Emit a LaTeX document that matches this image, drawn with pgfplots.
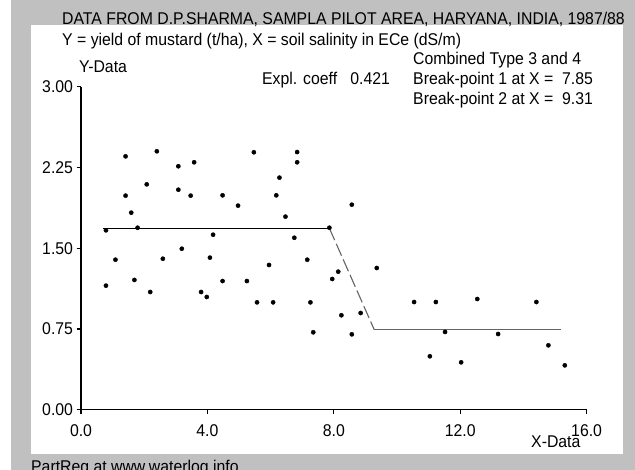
\documentclass[border=0pt]{standalone}
\usepackage{pgfplots}
\pgfplotsset{compat=1.18}
\usepackage{fontspec}
\setmainfont{Liberation Sans}[FakeStretch=0.93]
\definecolor{panelgray}{RGB}{192,192,192}
\definecolor{fitgray}{RGB}{100,100,100}

% yield of mustard (t/ha) against soil salinity ECe (dS/m)
\pgfplotstableread{
x y
1.41 2.353
2.40 2.400
3.08 2.261
3.58 2.298
2.08 2.093
1.41 1.988
3.08 2.043
3.47 1.988
1.59 1.830
0.79 1.666
1.79 1.690
4.18 1.625
3.19 1.495
1.09 1.393
2.59 1.402
4.08 1.412
0.79 1.152
1.69 1.205
2.19 1.093
3.80 1.093
3.98 1.047
5.47 2.391
6.84 2.393
6.84 2.298
6.28 2.155
4.48 1.991
6.18 1.991
4.97 1.895
6.47 1.793
7.86 1.690
6.75 1.597
7.16 1.393
5.95 1.344
8.14 1.282
7.95 1.214
4.48 1.195
5.25 1.195
5.57 0.997
6.08 0.997
7.26 0.997
7.35 0.719
8.57 1.904
9.36 1.316
8.24 0.877
8.85 0.898
8.57 0.700
10.54 1.000
11.23 1.000
11.52 0.722
11.04 0.496
12.54 1.028
14.41 1.000
13.20 0.703
14.79 0.598
12.03 0.440
15.31 0.412
}\mustard

\begin{document}
\begin{tikzpicture}[x=1bp,y=1bp,font=\fontsize{17bp}{20bp}\selectfont]
\useasboundingbox (0,0) rectangle (635,470);
\clip (0,0) rectangle (635,470);
\fill[white] (0,0) rectangle (635,470);
\fill[panelgray] (11,0) rectangle (635,470);
\fill[white] (31,16) rectangle (623,445);

\begin{axis}[
  at={(81bp,60.3bp)}, anchor=south west,
  scale only axis, width=505.6bp, height=323bp,
  xmin=0, xmax=16, ymin=0, ymax=3,
  axis x line=bottom, axis y line=left,
  axis line style={-, line width=1.3bp, black},
  xtick={0,4,8,12,16}, ytick={0,0.75,1.5,2.25,3},
  tick align=outside, major tick length=4.5bp,
  tick style={line width=1.2bp, black},
  tick label style={font=\fontsize{17bp}{20bp}\selectfont},
  x tick label style={yshift=-7bp, /pgf/number format/.cd, assume math mode=true, fixed, fixed zerofill, precision=1, /tikz/.cd},
  y tick label style={/pgf/number format/.cd, assume math mode=true, fixed, fixed zerofill, precision=2, /tikz/.cd},
  clip=false,
]
\addplot[black, line width=1bp] coordinates {(0.71,1.685) (7.86,1.685)};
\addplot[fitgray, line width=1.1bp, dash pattern=on 13bp off 4bp] coordinates {(7.86,1.685) (9.28,0.743)};
\addplot[fitgray, line width=1.1bp] coordinates {(9.28,0.743) (15.19,0.743)};
\addplot[only marks, mark=*, mark size=2.1bp, black] table {\mustard};
\end{axis}

\node[anchor=base west, inner sep=0] at (62,445.5) {DATA FROM D.P.SHARMA, SAMPLA PILOT AREA, HARYANA, INDIA, 1987/88};
\node[anchor=base west, inner sep=0] at (62,424) {Y = yield of mustard (t/ha), X = soil salinity in ECe (dS/m)};
\node[anchor=base west, inner sep=0] at (79,397) {Y-Data};
\node[anchor=base west, inner sep=0] at (262,385.5) {Expl. coeff\ \ \ 0.421};
\node[anchor=base west, inner sep=0] at (413,405) {Combined Type 3 and 4};
\node[anchor=base west, inner sep=0] at (413,385.5) {Break-point 1 at X =\ \ 7.85};
\node[anchor=base west, inner sep=0] at (413,365.5) {Break-point 2 at X =\ \ 9.31};
\node[anchor=base west, inner sep=0] at (531,22) {X-Data};
\node[anchor=base west, inner sep=0] at (31,-3) {PartReg at www.waterlog.info};
\end{tikzpicture}
\end{document}
